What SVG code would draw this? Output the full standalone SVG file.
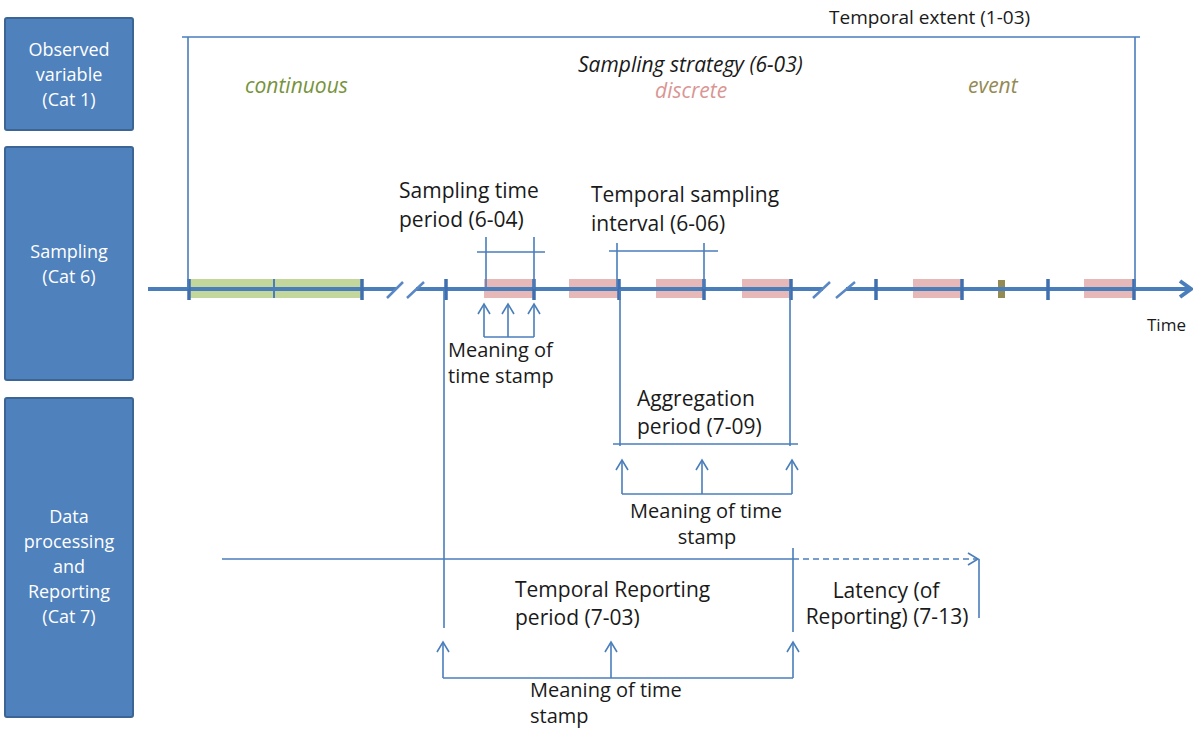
<svg xmlns="http://www.w3.org/2000/svg" width="1197" height="732" viewBox="0 0 1197 732">
<style>
.box{fill:#4F81BD;stroke:#3A6595;stroke-width:2}
.bt{font-family:"Open Sans","Liberation Sans",sans-serif;font-size:18px;fill:#FFFFFF;text-anchor:middle}
.t{font-family:"Open Sans","Liberation Sans",sans-serif;font-size:21px;fill:#1A1A1A}
.m{font-size:20px}
.it{font-style:italic}
.ln{stroke:#4A7EBB;stroke-width:1.6;fill:none}
.ax{stroke:#4A7EBB;stroke-width:4;fill:none}
.tk{stroke:#3F6FAE;stroke-width:3.5;fill:none}
.sl{stroke:#5A88C4;stroke-width:2.5;fill:none}
.pk{fill:#E6B9B8}
.gr{fill:#C3D69B}
.arr{stroke:#4A7EBB;stroke-width:1.6;fill:none;marker-end:url(#oa)}
</style>
<defs>
<marker id="oa" viewBox="-12 -7 14 14" markerWidth="14" markerHeight="14" markerUnits="userSpaceOnUse" orient="auto" refX="0" refY="0">
<path d="M-10,-6 L0,0 L-10,6" fill="none" stroke="#4A7EBB" stroke-width="1.6"/>
</marker>
<marker id="ba" viewBox="-14 -10 16 20" markerWidth="16" markerHeight="20" markerUnits="userSpaceOnUse" orient="auto" refX="0" refY="0">
<path d="M-11,-8 L0,0 L-11,8" fill="none" stroke="#4A7EBB" stroke-width="4"/>
</marker>
</defs>
<rect width="1197" height="732" fill="#FFFFFF"/>

<g id="cat1">
<rect class="box" x="5" y="18" width="128" height="112" rx="2"/>
<text class="bt" x="69" y="56">Observed</text>
<text class="bt" x="69" y="81">variable</text>
<text class="bt" x="69" y="106">(Cat 1)</text>
</g>
<g id="cat6">
<rect class="box" x="5" y="147" width="128" height="233" rx="2"/>
<text class="bt" x="69" y="258">Sampling</text>
<text class="bt" x="69" y="283">(Cat 6)</text>
</g>
<g id="cat7">
<rect class="box" x="5" y="398" width="128" height="319" rx="2"/>
<text class="bt" x="69" y="523">Data</text>
<text class="bt" x="69" y="548">processing</text>
<text class="bt" x="69" y="573">and</text>
<text class="bt" x="69" y="598">Reporting</text>
<text class="bt" x="69" y="623">(Cat 7)</text>
</g>

<g id="labels">
<text class="t" x="829" y="24" style="font-size:19px">Temporal extent (1-03)</text>
<text class="t it" x="578" y="72">Sampling strategy (6-03)</text>
<text class="t it" x="245" y="93" style="fill:#77933C">continuous</text>
<text class="t it" x="655" y="98" style="fill:#D99694">discrete</text>
<text class="t it" x="968" y="93" style="fill:#948A54">event</text>
<text class="t" x="399" y="198">Sampling time</text>
<text class="t" x="399" y="227">period (6-04)</text>
<text class="t" x="591" y="202">Temporal sampling</text>
<text class="t" x="591" y="231">interval (6-06)</text>
<text class="t m" x="448" y="357">Meaning of</text>
<text class="t m" x="448" y="383">time stamp</text>
<text class="t" x="1147" y="331" style="font-size:17px">Time</text>
<text class="t" x="637" y="406">Aggregation</text>
<text class="t" x="637" y="434">period (7-09)</text>
<text class="t m" x="706" y="518" text-anchor="middle">Meaning of time</text>
<text class="t m" x="707" y="544" text-anchor="middle">stamp</text>
<text class="t" x="515" y="597">Temporal Reporting</text>
<text class="t" x="515" y="625">period (7-03)</text>
<text class="t" x="886" y="598" text-anchor="middle">Latency (of</text>
<text class="t" x="887" y="624" text-anchor="middle">Reporting) (7-13)</text>
<text class="t m" x="530" y="697">Meaning of time</text>
<text class="t m" x="530" y="723">stamp</text>
</g>

<g id="timeline">
<rect class="gr" x="189" y="279" width="173" height="19"/>
<rect class="pk" x="484" y="279" width="49" height="19"/>
<rect class="pk" x="569" y="279" width="49" height="19"/>
<rect class="pk" x="656" y="279" width="48" height="19"/>
<rect class="pk" x="742" y="279" width="49" height="19"/>
<rect class="pk" x="913" y="279" width="49" height="19"/>
<rect class="pk" x="1084" y="279" width="50" height="19"/>
<rect x="998" y="280" width="7" height="18" fill="#948A54"/>
<path class="ax" d="M148,289 H396 M416,289 H823 M846,289 H1190"/>
<path class="ax" d="M1180,289 H1191" marker-end="url(#ba)"/>
<path class="sl" d="M387,298 L403,282 M407,298 L424,282 M813,298 L830,282 M836,298 L855,282"/>
<path class="tk" d="M189,279 V300 M362,279 V300 M446,279 V300 M534,279 V300 M619,279 V300 M704,279 V300 M791,279 V300 M876,279 V300 M962,279 V300 M1048,279 V300 M1134,279 V300"/>
<path d="M274,279 V298" stroke="#4A7EBB" stroke-width="2"/>
</g>

<g id="connectors">
<path class="ln" d="M182,37 H1140 M188,37 V289 M1135,37 V289"/>
<path class="ln" d="M477,252 H545 M486,237 V289 M534,237 V289"/>
<path class="ln" d="M609,251 H718 M617,243 V289 M704,243 V289"/>
<path class="ln" d="M444,289 V628"/>
<path class="ln" d="M620,289 V446 M790,289 V446 M613,444 H798"/>
<path class="ln" d="M222,559 H793 M793,548 V632 M979,559 V618"/>
<path class="ln" d="M793,559 H978" stroke-dasharray="6,4" marker-end="url(#oa)"/>
<path class="ln" d="M484,337 H534"/>
<path class="arr" d="M484,337 V304"/>
<path class="arr" d="M508,337 V304"/>
<path class="arr" d="M534,337 V304"/>
<path class="ln" d="M622,494 H792"/>
<path class="arr" d="M622,494 V460"/>
<path class="arr" d="M702,494 V460"/>
<path class="arr" d="M792,494 V460"/>
<path class="ln" d="M443,678 H793"/>
<path class="arr" d="M443,678 V642"/>
<path class="arr" d="M611,678 V642"/>
<path class="arr" d="M793,678 V642"/>
</g>
</svg>
